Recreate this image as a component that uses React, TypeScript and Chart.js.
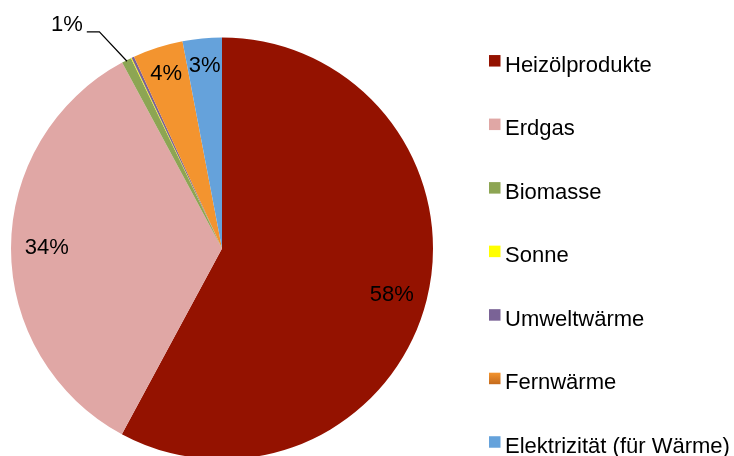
import React, { useEffect, useRef } from "react";
import { Chart, registerables } from "chart.js";

Chart.register(...registerables);

const categories = [
  "Heizölprodukte",
  "Erdgas",
  "Biomasse",
  "Sonne",
  "Umweltwärme",
  "Fernwärme",
  "Elektrizität (für Wärme)",
];
const shares = [57.9, 34.3, 0.75, 0.05, 0.2, 3.85, 3.0];
const sliceColors = ["#941200", "#E0A7A5", "#8DA553", "#FFFF00", "#7A6396", "#F3942F", "#65A2DB"];

const FONT = '22px "Liberation Sans", Arial, sans-serif';

const sliceLabels = {
  id: "sliceLabels",
  afterDatasetsDraw(chart: any) {
    const ctx = chart.ctx as CanvasRenderingContext2D;
    const meta = chart.getDatasetMeta(0);
    const data = chart.data.datasets[0].data as number[];
    const total = data.reduce((a, b) => a + b, 0);
    ctx.save();
    ctx.font = FONT;
    ctx.fillStyle = "#000";
    meta.data.forEach((arc: any, i: number) => {
      const { x, y, startAngle, endAngle, outerRadius } = arc.getProps(
        ["x", "y", "startAngle", "endAngle", "outerRadius"],
        true
      );
      const pct = (data[i] / total) * 100;
      if (pct < 0.5) return;
      const text = Math.round(pct) + "%";
      const mid = (startAngle + endAngle) / 2;
      const c = Math.cos(mid);
      const s = Math.sin(mid);
      if (pct < 2) {
        const ex = x + c * (outerRadius - 1);
        const ey = y + s * (outerRadius - 1);
        const kx = ex - 27.6;
        const ky = ey - 29.4;
        const hx = kx - 12.6;
        ctx.strokeStyle = "#000";
        ctx.lineWidth = 1.2;
        ctx.beginPath();
        ctx.moveTo(ex, ey);
        ctx.lineTo(kx, ky);
        ctx.lineTo(hx, ky);
        ctx.stroke();
        ctx.textAlign = "right";
        ctx.textBaseline = "alphabetic";
        ctx.fillText(text, hx - 4, ky - 0.5);
      } else {
        const f = pct < 10 ? 0.87 : 0.83;
        ctx.textAlign = "center";
        ctx.textBaseline = "middle";
        ctx.fillText(text, x + c * outerRadius * f, y + s * outerRadius * f + (pct > 50 ? 4 : 0));
      }
    });
    ctx.restore();
  },
};

const sideLegend = {
  id: "sideLegend",
  afterDraw(chart: any, _args: any, opts: any) {
    const ctx = chart.ctx as CanvasRenderingContext2D;
    const labels = chart.data.labels as string[];
    const bg = chart.data.datasets[0].backgroundColor as string[];
    ctx.save();
    ctx.font = FONT;
    ctx.textAlign = "left";
    ctx.textBaseline = "alphabetic";
    labels.forEach((lab, i) => {
      const cy = opts.top + i * opts.step;
      const size = opts.box;
      let fill: any = bg[i];
      const grad = opts.gradients && opts.gradients[i];
      if (grad) {
        const g = ctx.createLinearGradient(0, cy - size / 2, 0, cy + size / 2);
        g.addColorStop(0, grad[0]);
        g.addColorStop(1, grad[1]);
        fill = g;
      }
      ctx.fillStyle = fill;
      ctx.fillRect(opts.x, cy - size / 2, size, size);
      ctx.fillStyle = "#000";
      ctx.fillText(lab, opts.x + 16, cy + 11);
    });
    ctx.restore();
  },
};

export default function App() {
  const ref = useRef<HTMLCanvasElement | null>(null);
  useEffect(() => {
    if (!ref.current) return;
    const chart = new Chart(ref.current, {
      type: "pie",
      data: {
        labels: categories,
        datasets: [
          {
            data: shares,
            backgroundColor: sliceColors,
            borderWidth: 0,
          },
        ],
      },
      options: {
        responsive: false,
        animation: false,
        layout: { padding: { left: 11, right: 301, top: 37.5, bottom: 37.5 } },
        plugins: {
          legend: { display: false },
          tooltip: { enabled: false },
          sideLegend: {
            x: 489,
            top: 60.8,
            step: 63.53,
            box: 11.5,
            gradients: { 5: ["#F3942F", "#C46A1C"] },
          },
        } as any,
      },
      plugins: [sliceLabels, sideLegend],
    });
    return () => chart.destroy();
  }, []);
  return (
    <div
      style={{
        position: "fixed",
        left: 0,
        top: 0,
        width: 734,
        height: 456,
        overflow: "hidden",
        background: "#fff",
      }}
    >
      <canvas ref={ref} width={734} height={497} style={{ display: "block" }} />
    </div>
  );
}
